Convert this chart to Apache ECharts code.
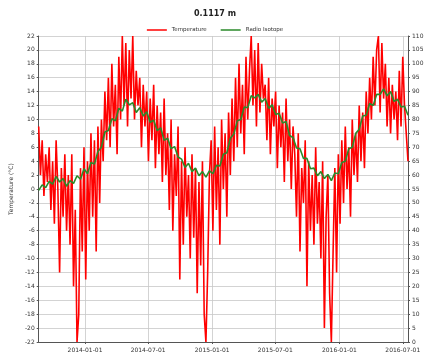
<!DOCTYPE html>
<html>
<head>
<meta charset="utf-8">
<script src="https://cdn.jsdelivr.net/npm/echarts@6/dist/echarts.min.js"></script>
<style>html,body{margin:0;padding:0;background:#fff;}#c{width:430px;height:358px;}</style>
</head>
<body>
<div id="c"></div>
<script>
// ---- data ----
var titleText = "0.1117 m";
var seriesNames = ["Temperature", "Radio Isotope"];
var startDate = "2013-08-21";
var tempStepDays = 5;
var soilStepDays = 10;
var tempValues = [
  9, 2, 7, -1, 5, 1,
  6, -3, 4, -5, 7, 0, -12, 3, -4, 5, -6,
  2, -8, 5, -14, -3, -22, -18, 3, -9,
  6, -13, 4, -6, 8, -4, 7, -9, 9, -2, 10,
  4, 14, 7, 16, 6, 18, 9, 15, 5, 19, 10,
  22, 12, 21, 9, 20, 13, 22, 10, 17,
  12, 16, 6, 15, 9, 14, 4, 13, 7, 15, 3, 12, 5, 11, 1, 13, 2,
  8, -3, 10, -6, 5, -1, 9, -13, 4, -8, 6, -4, 2, -10,
  5, -7, 3, -15, 1, -11, 4, -18, -22, -12, 2,
  7, -6, 9, -3, 6, -8, 10, 0, 8, -4, 11, 2, 13, 4,
  16, 6, 18, 8, 15, 5, 19, 10, 17,
  22, 12, 20, 9, 21, 11, 18, 13,
  15, 7, 16, 5, 13, 9, 14, 3, 12, 6, 11, 1, 13, 4, 10, 0, 9,
  5, -4, 8, -9, 3, -2, 7, -14, 4, -6, 2, -8, 6, -5,
  1, -10, 4, -20, -4, 2, -15, -22, -9, 3, -12,
  5, -5, 7, -2, 9, 0, 6, -4, 10, 2, 8, 1, 12, 4, 11, 3, 14,
  8, 16, 10, 19, 12, 20, 22, 11, 21, 13, 18,
  9, 16, 8, 15, 10, 14, 7, 17, 9, 19, 12, 8, 4
];
var soilValues = [
  -0.2, 0.6, 0.2, 1.1, 0.7, 1.8, 1.0, 1.5, 0.4, 1.2, 0.8, 1.9, 1.4, 2.9, 2.2, 3.8, 3.6, 5.4, 6.0, 8.2,
  8.4, 10.1, 9.8, 11.6, 11.2, 12.9, 12.1, 12.4, 11.0, 11.7, 10.5, 11.1, 9.6, 9.9, 8.4, 8.8, 7.0, 7.3, 5.8, 6.1,
  4.6, 4.3, 3.1, 3.7, 2.5, 3.0, 1.9, 2.5, 1.7, 2.6, 2.2, 3.4, 3.3, 5.0, 5.2, 7.3, 7.9, 9.8, 10.0, 11.8,
  11.7, 13.4, 13.1, 13.6, 12.5, 13.0, 11.6, 12.1, 10.7, 10.9, 9.5, 9.7, 7.7, 7.4, 5.9, 5.8, 4.4, 4.4, 2.9, 3.0,
  1.9, 2.5, 1.5, 2.1, 1.2, 2.3, 2.2, 3.8, 4.0, 5.8, 6.0, 8.0, 8.6, 10.5, 10.6, 12.3, 12.0, 13.6, 13.6, 14.4,
  13.4, 14.0, 12.6, 12.9, 11.8, 11.9, 10.6
];
var leftTicks = { min: -22, max: 22, interval: 2 };
var rightTicks = { min: 0, max: 110, interval: 5 };

// ---- build series ----
var DAY = 86400000;
var t0 = new Date(startDate + "T00:00:00Z").getTime();
var tempData = tempValues.map(function (v, i) { return [t0 + i * tempStepDays * DAY, v]; });
var soilData = soilValues.map(function (v, i) { return [t0 + i * soilStepDays * DAY, v]; });
var tEnd = tempData[tempData.length - 1][0];

var chart = echarts.init(document.getElementById('c'), null, { renderer: 'canvas' });
var lab = { fontSize: 6, color: '#333', fontFamily: 'DejaVu Sans' };
chart.setOption({
  animation: false,
  backgroundColor: '#fff',
  title: {
    text: titleText, left: 'center', top: 5,
    textStyle: { fontSize: 8, fontWeight: 'bold', color: '#222', fontFamily: 'DejaVu Sans' }
  },
  legend: {
    top: 22, left: 'center', itemGap: 14, itemWidth: 20, itemHeight: 1.5, icon: 'rect',
    textStyle: { fontSize: 5.5, color: '#333', fontFamily: 'DejaVu Sans' },
    data: seriesNames
  },
  grid: { left: 28, right: 22, top: 36, bottom: 16, containLabel: false },
  xAxis: {
    type: 'time', min: t0, max: tEnd, minInterval: 200 * DAY, splitNumber: 5,
    axisLine: { onZero: false, lineStyle: { color: '#555', width: 1 } },
    axisTick: { show: true, length: 2, lineStyle: { color: '#555' } },
    axisLabel: Object.assign({ formatter: '{yyyy}-{MM}-{dd}', margin: 5, hideOverlap: false, showMinLabel: false }, lab),
    splitLine: { show: true, lineStyle: { color: '#c8c8c8', width: 0.8 } },
    minorTick: { show: false }
  },
  yAxis: [
    {
      type: 'value', min: leftTicks.min, max: leftTicks.max, interval: leftTicks.interval,
      name: 'Temperature (°C)', nameLocation: 'middle', nameGap: 18, nameRotate: 90,
      nameTextStyle: { fontSize: 6, color: '#333', fontFamily: 'DejaVu Sans' },
      axisLine: { show: true, lineStyle: { color: '#555', width: 1 } },
      axisTick: { show: true, length: 2, lineStyle: { color: '#555' } },
      axisLabel: Object.assign({ margin: 4 }, lab),
      splitLine: { show: true, lineStyle: { color: '#c8c8c8', width: 0.8 } }
    },
    {
      type: 'value', position: 'right', min: rightTicks.min, max: rightTicks.max, interval: rightTicks.interval,
      axisLine: { show: true, lineStyle: { color: '#555', width: 1 } },
      axisTick: { show: true, length: 2, lineStyle: { color: '#555' } },
      axisLabel: Object.assign({ margin: 4 }, lab),
      splitLine: { show: false }
    }
  ],
  series: [
    {
      name: seriesNames[0], type: 'line', yAxisIndex: 0, data: tempData,
      showSymbol: false, symbol: 'none', color: '#ff0000',
      lineStyle: { color: '#ff0000', width: 1.6 }, z: 2
    },
    {
      name: seriesNames[1], type: 'line', yAxisIndex: 0, data: soilData,
      showSymbol: false, symbol: 'none', color: '#2a8a2a',
      lineStyle: { color: '#2a8a2a', width: 1.6 }, z: 3
    }
  ]
});
</script>
</body>
</html>
